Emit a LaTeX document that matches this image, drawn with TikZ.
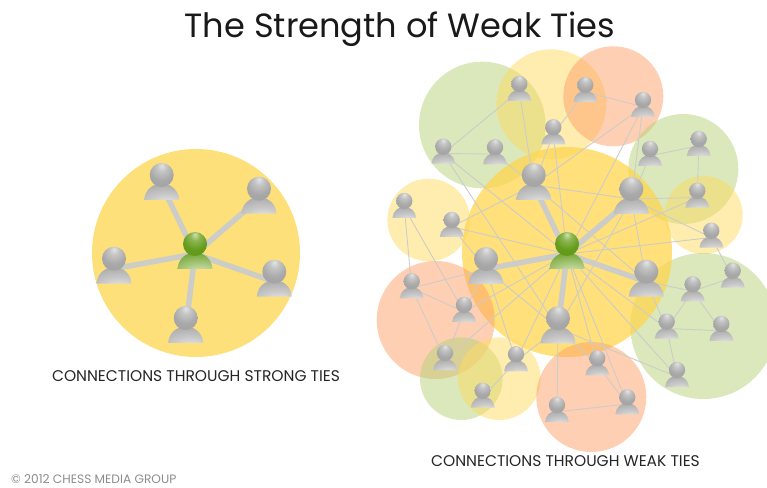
\documentclass[tikz,border=0pt]{standalone}
\usepackage{fontspec}
\setmainfont{Poppins}
\usetikzlibrary{calc,positioning}

\definecolor{tiegray}{HTML}{CCCCC8}
\definecolor{sungold}{HTML}{FEE07A}
\definecolor{ringgreen}{HTML}{B5D17A}
\definecolor{ringorange}{HTML}{FF9F67}
\definecolor{ringyellow}{HTML}{FEDB60}
\definecolor{bigyellow}{HTML}{FFD64E}

\definecolor{grayA}{HTML}{E4E4E4}
\definecolor{grayB}{HTML}{C4C4C4}
\definecolor{grayC}{HTML}{A8A8A8}
\definecolor{grayD}{HTML}{959595}
\definecolor{grayE}{HTML}{F0F0F0}
\definecolor{grayF}{HTML}{C8C8C8}
\definecolor{grayG}{HTML}{8E8E8E}
\definecolor{greenA}{HTML}{CDE2AE}
\definecolor{greenB}{HTML}{8DB652}
\definecolor{greenC}{HTML}{649C1C}
\definecolor{greenD}{HTML}{558C10}
\definecolor{greenE}{HTML}{E2EDCE}
\definecolor{greenF}{HTML}{A6C77A}
\definecolor{greenG}{HTML}{6FA02C}
\definecolor{greenH}{HTML}{558A10}

\pgfdeclareradialshading{headgray}{\pgfpoint{0bp}{20bp}}{color(0bp)=(grayA);color(10bp)=(grayB);color(25bp)=(grayC);color(70bp)=(grayD)}
\pgfdeclareradialshading{headgreen}{\pgfpoint{0bp}{20bp}}{color(0bp)=(greenA);color(10bp)=(greenB);color(25bp)=(greenC);color(70bp)=(greenD)}
\pgfdeclareradialshading{bodygray}{\pgfpoint{8bp}{-42bp}}{color(0bp)=(grayE);color(25bp)=(grayF);color(50bp)=(grayC);color(100bp)=(grayG)}
\pgfdeclareradialshading{bodygreen}{\pgfpoint{8bp}{-42bp}}{color(0bp)=(greenE);color(25bp)=(greenF);color(50bp)=(greenG);color(100bp)=(greenH)}

\tikzset{
    strongtie/.style={line width=5.5pt,tiegray},
    weaktie/.style={line width=.9pt,tiegray},
    ring/.style={fill=#1,fill opacity=.5,draw=none},
    caption/.style={inner sep=0pt,anchor=base,font=\fontsize{15.5}{18}\selectfont,text=black!85},
    pics/person/.style 2 args={code={
        \shade[shading=#1]
            (-17.5,-15) .. controls (-17,-5) and (-9,1.5) .. (0,1.5)
            .. controls (9,1.5) and (17,-5) .. (17.5,-15) -- cycle;
        \shade[shading=#2] (0,10) circle (12);
    }}
}

\begin{document}
\begin{tikzpicture}[x=1pt,y=1pt]
    \useasboundingbox (0,0) rectangle (767,487);

    % circles
    \fill[sungold] (196,234) circle (104);
    \foreach \c/\x/\y/\r in {
        ringgreen/482.3/362/63.3,
        ringyellow/551.3/382.7/55,
        ringorange/613.3/390.7/50,
        ringgreen/683.3/318/55,
        ringyellow/703.7/272/39,
        ringyellow/428.7/267/41.3,
        ringgreen/703.3/161/73}
    {
        \fill[ring=\c] (\x,\y) circle (\r);
    };
    \fill[bigyellow,fill opacity=.75] (567,235) circle (105);
    \foreach \c/\x/\y/\r in {
        ringorange/435.7/167/59,
        ringgreen/461.3/108.3/41.3,
        ringyellow/499.3/108.3/41.3,
        ringorange/591.3/90/55}
    {
        \fill[ring=\c] (\x,\y) circle (\r);
    };

    % left group
    \coordinate (C) at (195,233);
    \coordinate (S1) at (161.7,302);
    \coordinate (S2) at (259,288.3);
    \coordinate (S3) at (114,218.3);
    \coordinate (S4) at (274.3,205.3);
    \coordinate (S5) at (185.7,159);

    % right group, strong ties
    \coordinate (G) at (567,233);
    \coordinate (L1) at (533.7,302);
    \coordinate (L2) at (631.3,288);
    \coordinate (L3) at (486,218);
    \coordinate (L4) at (646.3,205.3);
    \coordinate (L5) at (558,158.7);

    % right group, weak ties
    \foreach \v/\x/\y in {
        a/519.3/396.2, b/585.3/395.2, c/643/380.2, d/553.3/352.9,
        e/443.3/333.5, f/495/332.9, g/650/331.2, h/698.7/341.2,
        i/697.3/289.5, j/404.3/279.2, k/451.7/260.2, l/711.3/249.5,
        m/732.7/209.5, n/692.7/195.9, o/411.7/198.9, p/464/175.2,
        q/666.7/158.5, r/721.3/156.2, s/445/127.2, t/516/125.9,
        u/597.3/121.9, v/482.7/89.5, w/677/110.2, x/627.3/82.9,
        y/557/75.2}
    {
        \coordinate (\v) at (\x,\y);
    };

    \foreach \u/\v in {
        a/e, a/L1, b/d, b/c, c/L1, c/G, c/L2, d/L1, d/G,
        e/f, e/G, e/L5, f/L1, g/L2, g/h, h/i, i/L2, i/G,
        l/L2, l/G, l/m, L1/L2, L1/k, L1/L4, k/G, k/L3,
        j/o, j/p, L2/L5, L2/L4, o/L3, o/p, o/s, p/L3, p/G,
        p/s, s/G, t/G, t/L3, t/L5, L3/L5, t/v, L5/y, L5/u,
        L5/w, u/G, u/x, x/y, x/G, w/G, w/q, q/G, q/L4,
        q/r, q/n, n/r, n/m, n/L4}
    {
        \draw[weaktie] (\u) -- (\v);
    };

    \foreach \v in {S1,S2,S3,S4,S5}
    {
        \draw[strongtie] (C) -- (\v);
    };
    \foreach \v in {L1,L2,L3,L4,L5}
    {
        \draw[strongtie] (G) -- (\v);
    };

    \foreach \v in {a,b,c,d,e,f,g,h,i,j,k,l,m,n,o,p,q,r,s,t,u,v,w,x,y}
    {
        \pic[scale=.68] at (\v) {person={bodygray}{headgray}};
    };
    \foreach \v in {S1,S2,S3,S4,S5,L1,L2,L3,L4,L5}
    {
        \pic at (\v) {person={bodygray}{headgray}};
    };
    \pic at (C) {person={bodygreen}{headgreen}};
    \pic at (G) {person={bodygreen}{headgreen}};

    \node[font=\fontsize{33.6}{40}\selectfont,text=black!90,inner sep=0pt,anchor=base] (title) at (400,449) {The Strength of Weak Ties};
    \node[caption] (strong) at (196,106) {CONNECTIONS THROUGH STRONG TIES};
    \node[caption] (weak) at (565.5,21) {CONNECTIONS THROUGH WEAK TIES};
    \node[inner sep=0pt,anchor=base west,font=\fontsize{12.2}{14}\selectfont,text=black!45] (copy) at (11,4) {© 2012 CHESS MEDIA GROUP};
\end{tikzpicture}
\end{document}
